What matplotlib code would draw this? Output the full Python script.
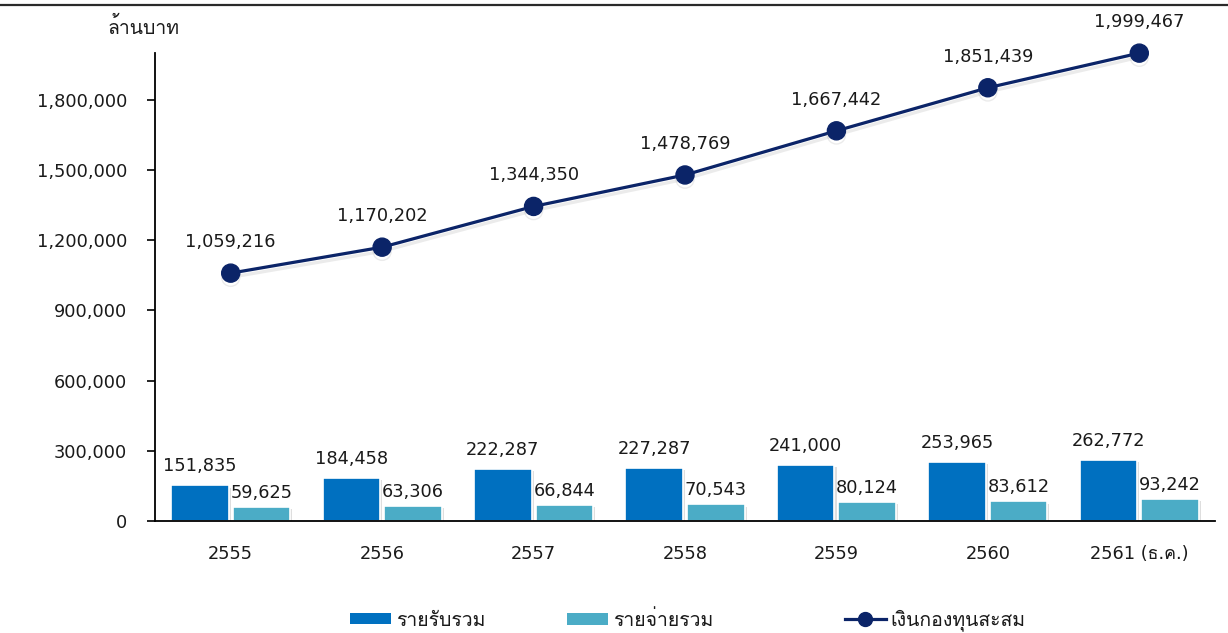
import matplotlib
matplotlib.use("Agg")
import matplotlib.pyplot as plt
from matplotlib import font_manager
from matplotlib.ft2font import FT2Font
from matplotlib.lines import Line2D
from matplotlib.patches import Patch
import matplotlib.patheffects as pe

# ---- data -------------------------------------------------------------
years = ["2555", "2556", "2557", "2558", "2559", "2560", "2561 (ธ.ค.)"]
revenue = [151835, 184458, 222287, 227287, 241000, 253965, 262772]
expense = [59625, 63306, 66844, 70543, 80124, 83612, 93242]
fund = [1059216, 1170202, 1344350, 1478769, 1667442, 1851439, 1999467]
yticks = [0, 300000, 600000, 900000, 1200000, 1500000, 1800000]
unit_label = "ล้านบาท"
legend_labels = ["รายรับรวม", "รายจ่ายรวม", "เงินกองทุนสะสม"]

# ---- font with Thai coverage (prefer a looped, Tahoma-like face) ----------
thai_fonts = []
for fe in font_manager.fontManager.ttflist:
    try:
        if 0x0E01 in FT2Font(fe.fname).get_charmap():
            thai_fonts.append(fe.name)
    except Exception:
        continue
preferred = ["Tahoma", "Waree", "Loma", "Garuda", "Tlwg Typo", "Sawasdee",
             "Noto Sans Thai", "Noto Sans Thai Looped"]
thai_family = next((p for p in preferred if p in thai_fonts), thai_fonts[0] if thai_fonts else None)
families = ["DejaVu Sans"] + ([thai_family] if thai_family else [])
plt.rcParams["font.family"] = families

C_REV = "#0070C0"
C_EXP = "#4BACC6"
C_LINE = "#0B2468"
TXT = "#1a1a1a"
FS = 12.8
FS_TH = 14

fig = plt.figure(figsize=(12.28, 6.33), dpi=100)
ax = fig.add_axes([155 / 1228, 1 - 521 / 633, (1215 - 155) / 1228, (521 - 53) / 633])

x = list(range(len(years)))
w = 0.38
gap = 0.013
shadow = [pe.SimplePatchShadow(offset=(1.5, -1.5), shadow_rgbFace="#c8c8c8", alpha=0.6), pe.Normal()]

b1 = ax.bar([i - w / 2 - gap for i in x], revenue, width=w, color=C_REV,
            edgecolor="white", linewidth=1.2, zorder=2)
b2 = ax.bar([i + w / 2 + gap for i in x], expense, width=w, color=C_EXP,
            edgecolor="white", linewidth=1.2, zorder=2)
for p in list(b1) + list(b2):
    p.set_path_effects(shadow)

ax.plot(x, fund, color=C_LINE, lw=2.3, marker="o", ms=13, zorder=4, clip_on=False,
        path_effects=[pe.SimpleLineShadow(offset=(0, -3), shadow_color="#b0b0b0", alpha=0.25), pe.Normal()])

# value labels
for i, v in enumerate(revenue):
    ax.annotate(f"{v:,}", (i - w / 2 - gap, v), xytext=(0, 10), textcoords="offset pixels",
                ha="center", va="bottom", fontsize=FS, color=TXT)
for i, v in enumerate(expense):
    ax.annotate(f"{v:,}", (i + w / 2 + gap, v), xytext=(0, 5), textcoords="offset pixels",
                ha="center", va="bottom", fontsize=FS, color=TXT)
for i, v in enumerate(fund):
    ax.annotate(f"{v:,}", (i, v), xytext=(0, 31), textcoords="offset pixels",
                ha="center", va="center", fontsize=FS, color=TXT, annotation_clip=False)

# axes styling
ax.set_xlim(-0.5, len(years) - 0.5)
ax.set_ylim(0, 2000000)
ax.set_yticks(yticks)
ax.set_yticklabels([f"{t:,}" for t in yticks], fontsize=FS, color=TXT)
ax.set_xticks(x)
ax.set_xticklabels(years, fontsize=FS, color=TXT)
ax.tick_params(axis="x", length=0, pad=17)
ax.tick_params(axis="y", length=6, width=1.2, direction="out", pad=14, color="black")
for s in ("top", "right"):
    ax.spines[s].set_visible(False)
ax.spines["left"].set_linewidth(1.3)
ax.spines["bottom"].set_linewidth(1.3)

fig.text(143 / 1228, 1 - 27 / 633, unit_label, ha="center", va="center", fontsize=FS_TH, color=TXT)

# top rule
fig.add_artist(Line2D([0, 1], [1 - 5 / 633] * 2, transform=fig.transFigure, color="#2a2a2a", lw=1.6))

# legend entries placed individually
handles = [
    Patch(facecolor=C_REV, edgecolor="none"),
    Patch(facecolor=C_EXP, edgecolor="none"),
    Line2D([], [], color=C_LINE, lw=2.3, marker="o", ms=10),
]
starts = [350, 567, 845]
for h, lab, xs in zip(handles, legend_labels, starts):
    leg = fig.legend([h], [lab], loc="center left", bbox_to_anchor=(xs / 1228, 1 - 620 / 633),
                     frameon=False, fontsize=FS_TH, borderpad=0, borderaxespad=0,
                     handlelength=2.1, handleheight=0.55, handletextpad=0.25)
    for t in leg.get_texts():
        t.set_color(TXT)

fig.savefig("out.png", dpi=100)
